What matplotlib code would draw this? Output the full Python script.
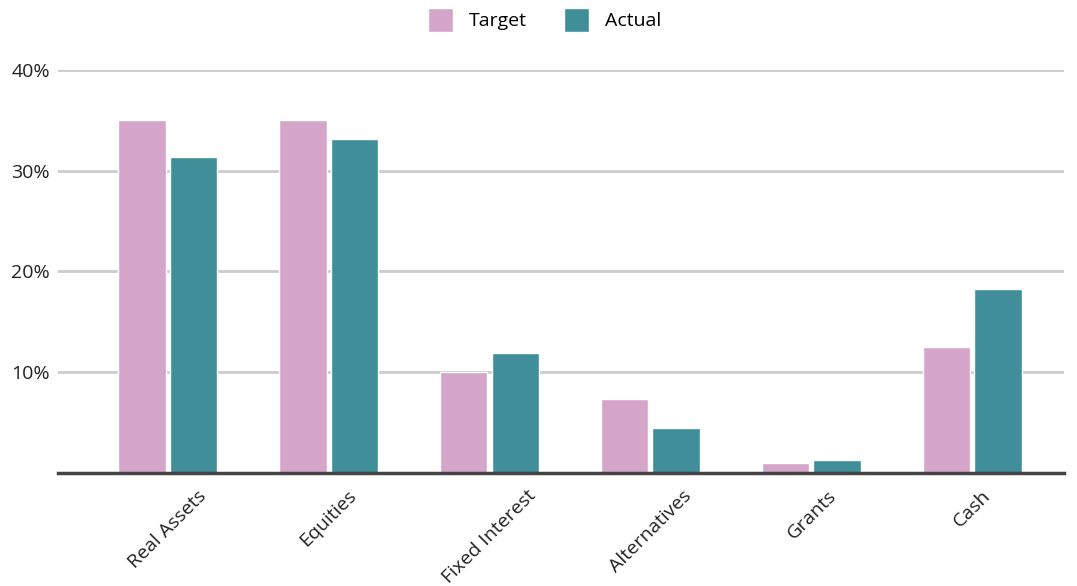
import numpy as np
import matplotlib.pyplot as plt

categories = ["Real Assets", "Equities", "Fixed Interest", "Alternatives", "Grants", "Cash"]
target = [35.0, 35.0, 10.0, 7.3, 1.0, 12.5]
actual = [31.4, 33.2, 11.9, 4.5, 1.3, 18.3]

plt.rcParams['font.family'] = ['Open Sans', 'DejaVu Sans']

fig = plt.figure(figsize=(10.77, 5.86), dpi=100)
ax = fig.add_axes([0.054, 0.193, 0.934, 0.6875])

x = np.arange(len(categories))
w = 0.295
ax.bar(x - 0.16, target, w, color="#D4A5C8", edgecolor="white", linewidth=1, label="Target", zorder=3)
ax.bar(x + 0.16, actual, w, color="#3F8E99", edgecolor="white", linewidth=1, label="Actual", zorder=3)

ax.set_xlim(-0.68, 5.57)
ax.set_ylim(0, 40)
ax.set_yticks([10, 20, 30, 40])
ax.set_yticklabels(["10%", "20%", "30%", "40%"], fontsize=14, color="#222222")
ax.set_xticks(x)
ax.set_xticklabels(categories, rotation=45, ha="center", va="top", fontsize=14, color="#222222")
ax.tick_params(axis="y", length=0, pad=6)
ax.tick_params(axis="x", length=0, pad=10)
ax.grid(axis="y", color="#cccccc", linewidth=2, zorder=0)
for s in ["top", "right", "left"]:
    ax.spines[s].set_visible(False)
ax.spines["bottom"].set_color("#444444")
ax.spines["bottom"].set_linewidth(2.5)
ax.spines["bottom"].set_zorder(4)

fig.legend(loc="center", bbox_to_anchor=(0.5056, 1 - 20 / 586), ncol=2, frameon=False,
           fontsize=14, handlelength=1.3, handleheight=1.6, columnspacing=1.9, handletextpad=0.8)

fig.savefig("out.png", dpi=100)
